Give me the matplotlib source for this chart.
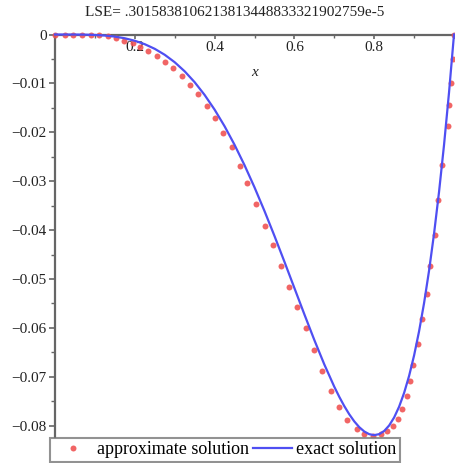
import matplotlib
matplotlib.use("Agg")
import matplotlib.pyplot as plt
from matplotlib.ticker import MultipleLocator, FixedLocator

plt.rcParams['font.family'] = ['Liberation Serif', 'DejaVu Serif']

title_text = "LSE= .3015838106213813448833321902759e-5"
xlabel_text = "x"
legend_labels = ["approximate solution", "exact solution"]

# exact solution
exact_x = [0.0, 0.025, 0.05, 0.075, 0.1, 0.125, 0.15, 0.175, 0.2, 0.225,
           0.25, 0.275, 0.3, 0.325, 0.35, 0.375, 0.4, 0.425, 0.45, 0.475,
           0.5, 0.525, 0.55, 0.575, 0.6, 0.625, 0.65, 0.675, 0.7, 0.7125,
           0.725, 0.7375, 0.75, 0.7625, 0.775, 0.7875, 0.8, 0.8125, 0.825,
           0.8375, 0.85, 0.8625, 0.875, 0.8875, 0.9, 0.9125, 0.925, 0.9375,
           0.95, 0.9625, 0.975, 0.9875, 1.0]
exact_y = [0.0, -0.0000004, -0.000006, -0.000029, -0.00009, -0.000214, -0.00043,
           -0.000774, -0.00128, -0.001986, -0.00293, -0.004146, -0.00567,
           -0.007531, -0.009754, -0.01236, -0.01536, -0.01876, -0.022553,
           -0.026726, -0.03125, -0.036085, -0.041178, -0.046458, -0.05184,
           -0.05722, -0.062477, -0.067468, -0.07203, -0.074093, -0.075978,
           -0.077656, -0.079102, -0.080284, -0.081169, -0.081726, -0.08192,
           -0.081714, -0.081069, -0.079945, -0.078301, -0.076092, -0.073273,
           -0.069795, -0.06561, -0.060665, -0.054907, -0.04828, -0.040725,
           -0.032184, -0.022592, -0.011887, 0.0]

# approximate solution (read from the red points)
approx_x = [0.0, 0.025, 0.046, 0.067, 0.089, 0.111, 0.132, 0.153, 0.173, 0.195,
            0.213, 0.234, 0.255, 0.276, 0.295, 0.318, 0.338, 0.359, 0.380, 0.401,
            0.421, 0.443, 0.464, 0.482, 0.504, 0.526, 0.546, 0.566, 0.586, 0.607,
            0.628, 0.648, 0.670, 0.692, 0.712, 0.733, 0.756, 0.775, 0.796, 0.817,
            0.833, 0.848, 0.859, 0.870, 0.881, 0.890, 0.898, 0.909, 0.919, 0.932,
            0.940, 0.953, 0.961, 0.971, 0.984, 0.988, 0.992, 0.997, 1.0]
approx_y = [0.0, 0.0, 0.0, 0.0, 0.0, -0.0002, -0.0004, -0.0008, -0.0013, -0.0018,
            -0.0025, -0.0033, -0.0043, -0.0056, -0.0069, -0.0084, -0.0103, -0.0122,
            -0.0146, -0.0171, -0.0202, -0.0231, -0.0268, -0.0304, -0.0347, -0.0391,
            -0.0430, -0.0473, -0.0516, -0.0558, -0.0601, -0.0645, -0.0689, -0.0729,
            -0.0761, -0.0788, -0.0807, -0.0817, -0.0820, -0.0817, -0.0810, -0.0800,
            -0.0786, -0.0765, -0.0739, -0.0709, -0.0676, -0.0632, -0.0581, -0.0530,
            -0.0474, -0.0409, -0.0339, -0.0266, -0.0187, -0.0144, -0.0099, -0.0051,
            0.0]

yticks = [-0.08, -0.07, -0.06, -0.05, -0.04, -0.03, -0.02, -0.01, 0.0]
ytick_labels = ["\u22120.08", "\u22120.07", "\u22120.06", "\u22120.05", "\u22120.04",
                "\u22120.03", "\u22120.02", "\u22120.01", "0"]
xticks = [0.2, 0.4, 0.6, 0.8, 1.0]
xtick_labels = ["0.2", "0.4", "0.6", "0.8", ""]

W, H = 455, 463
fig = plt.figure(figsize=(W / 100, H / 100), dpi=100)
y0px, ybot = 34.5, 437
ax = fig.add_axes([55 / W, 1 - ybot / H, 399 / W, (ybot - y0px) / H])
ax.set_xlim(0, 1)
ax.set_ylim(-0.0823, 0)

spine_col = "#666666"
for s in ['top', 'right']:
    ax.spines[s].set_visible(False)
ax.spines['bottom'].set_position(('data', 0))
ax.spines['bottom'].set_color(spine_col)
ax.spines['left'].set_color(spine_col)
ax.spines['bottom'].set_linewidth(1.6)
ax.spines['left'].set_linewidth(1.6)

approx_line, = ax.plot(approx_x, approx_y, linestyle='none', marker='o',
                       markersize=4.3, color='#f05050', alpha=0.88,
                       markeredgewidth=0, clip_on=False, zorder=3)
exact_line, = ax.plot(exact_x, exact_y, color='#4f4ff2', linewidth=1.6,
                      clip_on=False, zorder=4)

ax.yaxis.set_major_locator(FixedLocator(yticks))
ax.set_yticklabels(ytick_labels)
ax.yaxis.set_minor_locator(MultipleLocator(0.005))
ax.xaxis.set_major_locator(FixedLocator(xticks))
ax.set_xticklabels(xtick_labels)
ax.xaxis.set_minor_locator(MultipleLocator(0.1))

ax.tick_params(axis='y', which='major', direction='out', length=4, width=1.2,
               color=spine_col, labelsize=11, pad=2, labelcolor='#222222')
ax.tick_params(axis='y', which='minor', direction='out', length=3, width=1.0,
               color=spine_col)
ax.tick_params(axis='x', which='major', direction='out', length=3, width=1.2,
               color=spine_col, labelsize=11, pad=2, labelcolor='#222222')
ax.tick_params(axis='x', which='minor', direction='out', length=2, width=1.0,
               color=spine_col)

ax.set_xlabel(xlabel_text, fontstyle='italic', fontsize=11, labelpad=8,
              color='#222222')

fig.text(235 / W, 1 - 13 / H, title_text, ha='center', va='center',
         fontsize=11, color='#222222')

leg = fig.legend([approx_line, exact_line], legend_labels, ncol=2,
                 loc='lower left', bbox_to_anchor=(50 / W, 1 / H),
                 borderaxespad=0, fontsize=13, handlelength=2.2,
                 handletextpad=0.2, columnspacing=0.2, borderpad=0.2,
                 frameon=True, fancybox=False)
leg.get_frame().set_edgecolor('#777777')
leg.get_frame().set_linewidth(1.5)

fig.savefig("out.png", dpi=100)
